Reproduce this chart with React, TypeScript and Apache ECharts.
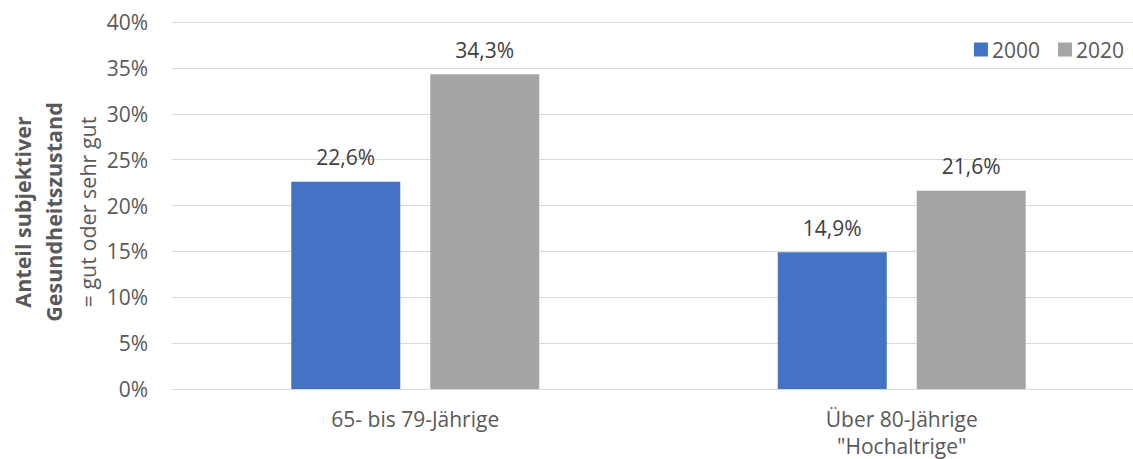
import React, { useEffect, useRef } from "react";
import * as echarts from "echarts";

const categories = ["65- bis 79-Jährige", "Über 80-Jährige\n\"Hochaltrige\""];
const seriesNames = ["2000", "2020"];
const values2000 = [22.6, 14.9];
const values2020 = [34.3, 21.6];
const colors = ["#4472C4", "#A5A5A5"];
const titleLines = ["Anteil subjektiver", "Gesundheitszustand", "= gut oder sehr gut"];

const FONT = "'Open Sans', 'Noto Sans', sans-serif";
const FS = 21;

export default function App() {
  const ref = useRef<HTMLDivElement>(null);
  useEffect(() => {
    if (!ref.current) return;
    const chart = echarts.init(ref.current, null, { renderer: "svg" });
    const fmt = (p: any) => p.value.toFixed(1).replace(".", ",") + "%";
    const label = {
      show: true,
      position: "top",
      distance: 14,
      color: "#404040",
      fontSize: FS,
      fontFamily: FONT,
      formatter: fmt,
    };
    chart.setOption({
      animation: false,
      backgroundColor: "#fff",
      textStyle: { fontFamily: FONT },
      legend: {
        data: seriesNames,
        top: 34,
        right: 4 + 27,
        itemWidth: 14,
        itemHeight: 14,
        itemGap: 18,
        icon: "rect",
        textStyle: { color: "#595959", fontSize: FS, fontFamily: FONT, padding: [0, 0, 0, -1] },
      },
      grid: { left: 172, top: 22, width: 973, height: 369 },
      xAxis: {
        type: "category",
        data: categories,
        axisLine: { lineStyle: { color: "#D9D9D9", width: 1 } },
        axisTick: { show: false },
        axisLabel: { color: "#595959", fontSize: FS, fontFamily: FONT, margin: 16, lineHeight: 27 },
      },
      yAxis: {
        type: "value",
        min: 0,
        max: 40,
        interval: 5,
        axisLine: { show: false },
        axisTick: { show: false },
        splitLine: { lineStyle: { color: "#D9D9D9", width: 1 } },
        axisLabel: { color: "#595959", fontSize: FS, fontFamily: FONT, margin: 24, formatter: "{value}%" },
      },
      series: [
        {
          name: seriesNames[0],
          type: "bar",
          data: values2000,
          barWidth: 109,
          barGap: "27.5%",
          itemStyle: { color: colors[0] },
          label,
        },
        {
          name: seriesNames[1],
          type: "bar",
          data: values2020,
          barWidth: 109,
          barGap: "27.5%",
          itemStyle: { color: colors[1] },
          label,
        },
      ],
      graphic: titleLines.map((t, i) => ({
        type: "text",
        x: [22, 53, 87][i],
        y: 212,
        rotation: Math.PI / 2,
        style: {
          text: t,
          fill: "#595959",
          fontSize: 21.5,
          fontFamily: FONT,
          fontWeight: i < 2 ? "bold" : "normal",
          textAlign: "center",
          textVerticalAlign: "middle",
        },
      })),
    });
    return () => chart.dispose();
  }, []);
  return (
    <div style={{ position: "fixed", left: 0, top: 0, width: 1133, height: 459, overflow: "hidden" }}>
      <div ref={ref} style={{ width: 1160, height: 459 }} />
    </div>
  );
}
